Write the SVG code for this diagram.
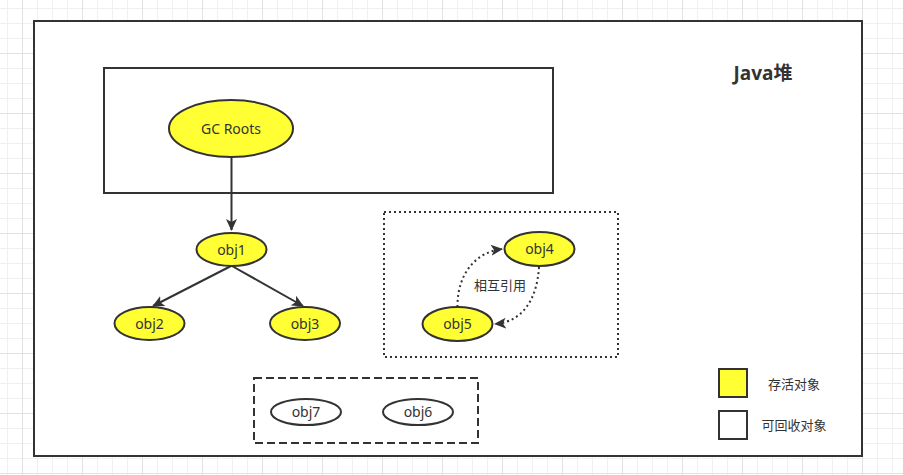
<svg xmlns="http://www.w3.org/2000/svg" width="903" height="475" viewBox="0 0 903 475">
<style>
text{font-family:"Noto Sans","Noto Sans CJK SC",sans-serif;fill:#333;text-anchor:middle;dominant-baseline:central}
.live{fill:#ffff33;stroke:#333;stroke-width:2}
.dead{fill:#fff;stroke:#333;stroke-width:2}
.edge{fill:none;stroke:#333;stroke-width:2}
.dot{fill:none;stroke:#333;stroke-width:2;stroke-dasharray:2 3}
.lbl{font-size:14px}
</style>
<defs>
<pattern id="grid" patternUnits="userSpaceOnUse" x="22" y="53" width="60" height="60">
<path d="M15.5 0V60M30.5 0V60M45.5 0V60M0 15.5H60M0 30.5H60M0 45.5H60" stroke="#f0f0f0" stroke-width="1" fill="none"/>
<path d="M0.5 0V60M0 0.5H60" stroke="#e2e2e2" stroke-width="1" fill="none"/>
</pattern>
<marker id="arrb" markerWidth="12" markerHeight="12" refX="11" refY="6" orient="auto" markerUnits="userSpaceOnUse" viewBox="0 0 12 12">
<path d="M0 0.5L12 6L0 11.5L3 6Z" fill="#333"/>
</marker>
</defs>
<rect width="903" height="475" fill="#fff"/>
<rect width="903" height="475" fill="url(#grid)"/>
<g id="heap">
<rect x="34" y="21" width="828" height="435" fill="#fff" stroke="#333" stroke-width="2"/>
<text x="763" y="73" style="font-size:19px;font-weight:bold">Java堆</text>
</g>
<g id="roots-box"><rect x="104" y="68" width="449" height="125" fill="#fff" stroke="#333" stroke-width="2"/></g>
<g id="cycle-box"><rect x="384" y="212" width="234" height="145" fill="none" stroke="#333" stroke-width="2" stroke-dasharray="2 3"/></g>
<g id="dead-box"><rect x="254" y="378" width="224" height="65" fill="none" stroke="#333" stroke-width="2" stroke-dasharray="8 4"/></g>
<g id="connectors">
<path class="edge" d="M231.5 157V230" marker-end="url(#arrb)"/>
<path class="edge" d="M231 266L153 306" marker-end="url(#arrb)"/>
<path class="edge" d="M232 266L303 306" marker-end="url(#arrb)"/>
<path class="dot" d="M457.5 307C457 275 475 252 502 249" marker-end="url(#arrb)"/>
<path class="dot" d="M539 267C537 300 522 322 495 324" marker-end="url(#arrb)"/>
<text x="500" y="285" style="font-size:13px">相互引用</text>
</g>
<g id="gc-roots"><ellipse class="live" cx="231" cy="128.5" rx="62" ry="28.5"/><text class="lbl" x="231" y="128">GC Roots</text></g>
<g id="obj1"><ellipse class="live" cx="231.5" cy="249.5" rx="35" ry="16.5"/><text class="lbl" x="231.5" y="249">obj1</text></g>
<g id="obj2"><ellipse class="live" cx="149.5" cy="323.5" rx="35" ry="16.5"/><text class="lbl" x="149.5" y="323">obj2</text></g>
<g id="obj3"><ellipse class="live" cx="305" cy="323.5" rx="35" ry="16.5"/><text class="lbl" x="305" y="323">obj3</text></g>
<g id="obj4"><ellipse class="live" cx="539.5" cy="249" rx="35" ry="17"/><text class="lbl" x="539.5" y="248.5">obj4</text></g>
<g id="obj5"><ellipse class="live" cx="457.5" cy="324" rx="35" ry="17"/><text class="lbl" x="457.5" y="323.5">obj5</text></g>
<g id="obj7"><ellipse class="dead" cx="306" cy="412" rx="35" ry="13"/><text class="lbl" x="306" y="411.5">obj7</text></g>
<g id="obj6"><ellipse class="dead" cx="418" cy="412" rx="35" ry="13"/><text class="lbl" x="418" y="411.5">obj6</text></g>
<g id="legend-live"><rect class="live" x="719" y="369" width="28" height="28"/><text class="lbl" x="794" y="384" style="font-size:13px">存活对象</text></g>
<g id="legend-dead"><rect class="dead" x="719" y="411" width="28" height="28"/><text class="lbl" x="794" y="425" style="font-size:13px">可回收对象</text></g>
</svg>
